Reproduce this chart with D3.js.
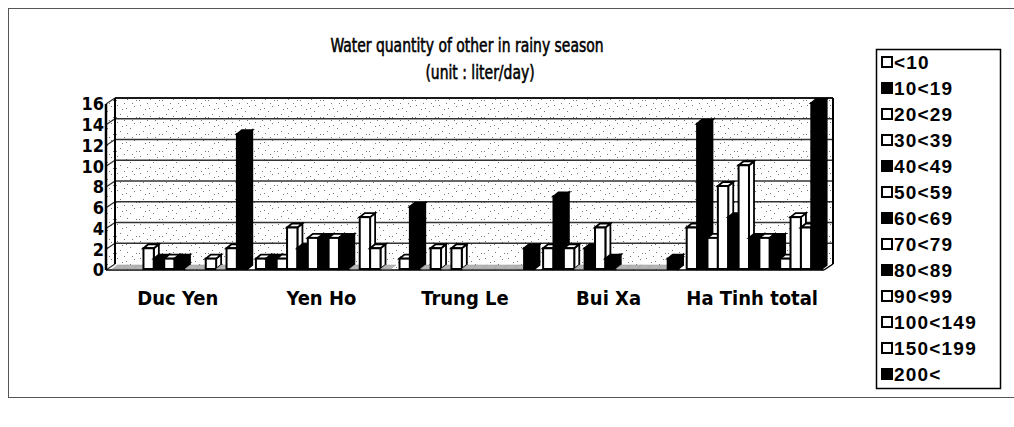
<!DOCTYPE html>
<html>
<head>
<meta charset="utf-8">
<script src="https://cdn.jsdelivr.net/npm/d3@7"></script>
<style>
  body { margin: 0; background: #fff; }
  svg { display: block; }
  text { fill: #000; }
</style>
</head>
<body>
<svg id="chart" width="1014" height="427"></svg>
<script>
// Communes (categories) and daily-quantity classes (series)
const categories = ["Duc Yen", "Yen Ho", "Trung Le", "Bui Xa", "Ha Tinh total"];
const seriesLabels = ["<10", "10<19", "20<29", "30<39", "40<49", "50<59", "60<69",
                      "70<79", "80<89", "90<99", "100<149", "150<199", "200<"];

// Number of households per class, one array per commune (series order above)
const ducYen      = [0, 0, 0, 2, 1, 1, 1, 0, 0, 1, 0, 2, 13];
const yenHo       = [1, 1, 1, 4, 2, 3, 3, 3, 3, 0, 5, 2, 0];
const trungLe     = [1, 6, 0, 2, 0, 2, 0, 0, 0, 0, 0, 0, 2];
const buiXa       = [2, 7, 2, 0, 2, 4, 1, 0, 0, 0, 0, 0, 1];
const haTinhTotal = [4, 14, 3, 8, 5, 10, 3, 3, 3, 1, 5, 4, 16];

const yTicks = [0, 2, 4, 6, 8, 10, 12, 14, 16];

// Fill of each class (hollow or solid)
const seriesFill = ["#fff", "#000", "#fff", "#fff", "#000", "#fff", "#000",
                    "#fff", "#000", "#fff", "#fff", "#fff", "#000"];

const valuesByCategory = [ducYen, yenHo, trungLe, buiXa, haTinhTotal];

const svg = d3.select("#chart");
const FONT = "'Liberation Sans', Arial, sans-serif";
const COND = "'DejaVu Sans Condensed', 'Liberation Sans', sans-serif";

// ---- texture for walls and floor ----
const defs = svg.append("defs");
const pat = defs.append("pattern").attr("id", "stipple")
  .attr("width", 23).attr("height", 17).attr("patternUnits", "userSpaceOnUse");
pat.append("rect").attr("width", 23).attr("height", 17).attr("fill", "#fff");
[[2, 3], [9, 1], [15, 9], [5, 12], [19, 4], [12, 14], [21, 15], [7, 7], [17, 1], [1, 15], [11, 6]].forEach(([a, b]) =>
  pat.append("rect").attr("x", a).attr("y", b).attr("width", 1).attr("height", 1).attr("fill", "#777"));

// ---- outer frame ----
svg.append("rect").attr("x", 8.5).attr("y", 8.5).attr("width", 1030).attr("height", 389)
  .attr("fill", "none").attr("stroke", "#555").attr("stroke-width", 1);

// ---- title (tall, narrow lettering) ----
const titleLines = ["Water quantity of other in rainy season", "(unit : liter/day)"];
const titlePos = [[467, 52], [480, 79]];
titleLines.forEach((t, i) => {
  svg.append("text")
    .attr("transform", `translate(${titlePos[i][0]},${titlePos[i][1]}) scale(1,1.25)`)
    .attr("text-anchor", "middle")
    .style("font", `15.5px ${COND}`).style("stroke", "#000").style("stroke-width", 0.45)
    .text(t);
});

// ---- 3-D plot geometry ----
const left = 106, right = 824;
const wallDX = 9, wallDY = 6;     // depth of walls/floor
const barDX = 5, barDY = 4;       // depth of each column
const barOX = 2, barOY = 1;       // columns sit slightly behind the front edge

const y = d3.scaleLinear().domain([0, 16]).range([270, 104]);
const x0 = d3.scaleBand().domain(categories).range([left, right])
  .paddingInner(0.06).paddingOuter(0.03);
const x1 = d3.scaleBand().domain(d3.range(seriesLabels.length)).range([0, x0.bandwidth()]);

const pts = a => a.map(p => p.join(",")).join(" ");

// back wall
svg.append("rect")
  .attr("x", left + wallDX).attr("y", y(16) - wallDY)
  .attr("width", right - left).attr("height", y(0) - y(16))
  .attr("fill", "url(#stipple)");
// side wall
svg.append("polygon")
  .attr("points", pts([[left, y(16)], [left + wallDX, y(16) - wallDY], [left + wallDX, y(0) - wallDY], [left, y(0)]]))
  .attr("fill", "url(#stipple)");
// floor
svg.append("polygon")
  .attr("points", pts([[left, y(0)], [left + wallDX, y(0) - wallDY], [right + wallDX, y(0) - wallDY], [right, y(0)]]))
  .attr("fill", "url(#stipple)");

// gridlines on back and side walls
const grid = svg.append("g").attr("stroke", "#333").attr("stroke-width", 1.4).attr("fill", "none");
grid.selectAll("line.back").data(yTicks.slice(1)).join("line").attr("class", "back")
  .attr("x1", left + wallDX).attr("x2", right + wallDX)
  .attr("y1", d => y(d) - wallDY).attr("y2", d => y(d) - wallDY);
grid.selectAll("line.side").data(yTicks).join("line").attr("class", "side")
  .attr("x1", left).attr("x2", left + wallDX)
  .attr("y1", d => y(d)).attr("y2", d => y(d) - wallDY);

// wall edges
const edges = svg.append("g").attr("stroke", "#000").attr("fill", "none");
edges.append("line").attr("x1", left).attr("x2", left).attr("y1", y(16)).attr("y2", y(0)).attr("stroke-width", 2.5);
edges.append("line").attr("x1", left + wallDX).attr("x2", left + wallDX)
  .attr("y1", y(16) - wallDY).attr("y2", y(0) - wallDY).attr("stroke-width", 2);
edges.append("line").attr("x1", right + wallDX).attr("x2", right + wallDX)
  .attr("y1", y(16) - wallDY).attr("y2", y(0) - wallDY).attr("stroke-width", 2);
edges.append("line").attr("x1", left + wallDX).attr("x2", right + wallDX)
  .attr("y1", y(16) - wallDY).attr("y2", y(16) - wallDY).attr("stroke-width", 1.6);
edges.append("line").attr("x1", right).attr("x2", right + wallDX)
  .attr("y1", y(0)).attr("y2", y(0) - wallDY).attr("stroke-width", 1.5);
edges.append("line").attr("x1", left).attr("x2", right)
  .attr("y1", y(0)).attr("y2", y(0)).attr("stroke-width", 1.5);

// ---- columns ----
const bars = svg.append("g");
categories.forEach((cat, ci) => {
  valuesByCategory[ci].forEach((v, si) => {
    const bx = x0(cat) + x1(si) + barOX;
    const w = x1.bandwidth();
    const yt = y(v) - barOY, yb = y(0) - barOY;
    const fill = seriesFill[si];
    const g = bars.append("g");
    if (v === 0) {
      g.append("polygon")
        .attr("points", pts([[bx, yb], [bx + barDX, yb - barDY], [bx + w + barDX, yb - barDY], [bx + w, yb]]))
        .attr("fill", "#b5b5b5").attr("stroke", "#999").attr("stroke-width", 0.5);
      return;
    }
    const stroke = "#000";
    g.append("polygon")
      .attr("points", pts([[bx + w, yt], [bx + w + barDX, yt - barDY], [bx + w + barDX, yb - barDY], [bx + w, yb]]))
      .attr("fill", fill).attr("stroke", stroke).attr("stroke-width", 1.8);
    g.append("polygon")
      .attr("points", pts([[bx, yt], [bx + barDX, yt - barDY], [bx + w + barDX, yt - barDY], [bx + w, yt]]))
      .attr("fill", fill).attr("stroke", stroke).attr("stroke-width", 1.8);
    g.append("rect")
      .attr("x", bx).attr("y", yt).attr("width", w).attr("height", yb - yt)
      .attr("fill", fill).attr("stroke", stroke).attr("stroke-width", 2);
  });
});

// ---- axes ----
const yAxis = svg.append("g").attr("transform", `translate(${left - 2},0)`)
  .call(d3.axisLeft(y).tickValues(yTicks).tickSize(0).tickPadding(0).tickFormat(d3.format("d")));
yAxis.select(".domain").remove();
yAxis.selectAll("text").style("font", `bold 18px ${COND}`);

const xAxis = svg.append("g").attr("transform", `translate(0,${y(0) + 21})`)
  .call(d3.axisBottom(x0).tickSize(0).tickPadding(0));
xAxis.select(".domain").remove();
xAxis.selectAll("text").style("font", `bold 20px ${COND}`);

// ---- legend ----
const lg = svg.append("g").attr("transform", "translate(876,49)");
lg.append("rect").attr("x", 0.5).attr("y", 0.5).attr("width", 124).attr("height", 339)
  .attr("fill", "#fff").attr("stroke", "#000").attr("stroke-width", 1.5);
const item = lg.selectAll("g.item").data(seriesLabels).join("g").attr("class", "item")
  .attr("transform", (d, i) => `translate(6,${13 + i * 26})`);
item.append("rect").attr("x", 0).attr("y", -5).attr("width", 10).attr("height", 10)
  .attr("fill", (d, i) => seriesFill[i]).attr("stroke", "#000").attr("stroke-width", 2);
item.append("text").attr("x", 12).attr("y", 0).attr("dy", "0.36em")
  .style("font", `bold 19px ${FONT}`).style("letter-spacing", "1.2px").text(d => d);
</script>
</body>
</html>
